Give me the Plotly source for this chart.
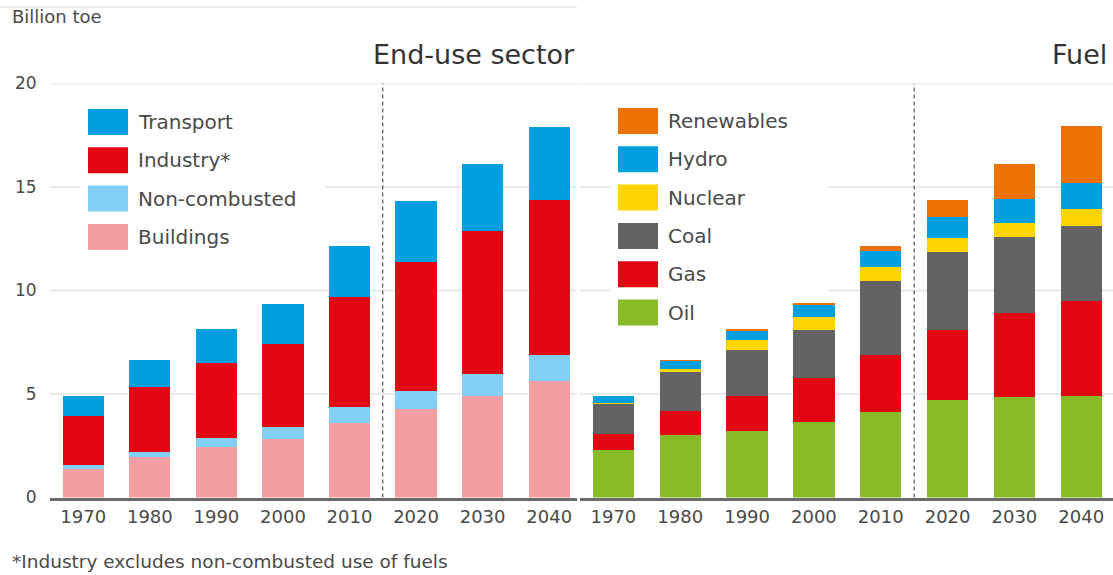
import plotly.graph_objects as go

years = ["1970", "1980", "1990", "2000", "2010", "2020", "2030", "2040"]

# Energy demand by end-use sector, billion toe (stacked bottom to top)
buildings = [1.38, 1.94, 2.43, 2.81, 3.59, 4.27, 4.90, 5.64]
non_combusted = [0.19, 0.28, 0.45, 0.59, 0.76, 0.88, 1.09, 1.24]
industry = [2.39, 3.14, 3.64, 4.01, 5.32, 6.21, 6.90, 7.51]
transport = [0.92, 1.28, 1.60, 1.94, 2.50, 2.98, 3.23, 3.49]

# Energy demand by fuel, billion toe (stacked bottom to top)
oil = [2.29, 3.03, 3.22, 3.67, 4.12, 4.69, 4.86, 4.89]
gas = [0.80, 1.17, 1.68, 2.09, 2.76, 3.41, 4.05, 4.61]
coal = [1.46, 1.86, 2.24, 2.34, 3.57, 3.76, 3.66, 3.63]
nuclear = [0.01, 0.16, 0.46, 0.61, 0.67, 0.66, 0.69, 0.81]
hydro = [0.32, 0.42, 0.50, 0.64, 0.77, 1.01, 1.16, 1.24]
renewables = [0.00, 0.01, 0.02, 0.03, 0.24, 0.82, 1.71, 2.75]

y_ticks = [0, 5, 10, 15, 20]

W, H = 1113, 575
FONT = "DejaVu Sans"
TEXT = "#4a4a4a"
GRID = "#e3e3e3"
AXIS = "#6b6b6b"


def px(x):
    return x / W


def py(y):
    return 1 - y / H


sector_series = [
    ("Buildings", buildings, "#F29EA2"),
    ("Non-combusted", non_combusted, "#83CFF5"),
    ("Industry*", industry, "#E20613"),
    ("Transport", transport, "#009FE0"),
]
fuel_series = [
    ("Oil", oil, "#89BA27"),
    ("Gas", gas, "#E20613"),
    ("Coal", coal, "#636363"),
    ("Nuclear", nuclear, "#FFD500"),
    ("Hydro", hydro, "#009FE0"),
    ("Renewables", renewables, "#EE7203"),
]

fig = go.Figure()
for name, vals, col in sector_series:
    fig.add_trace(go.Bar(x=years, y=vals, name=name, width=0.62,
                         marker=dict(color=col, line=dict(width=0)),
                         xaxis="x", yaxis="y"))
for name, vals, col in fuel_series:
    fig.add_trace(go.Bar(x=years, y=vals, name=name, width=0.62,
                         marker=dict(color=col, line=dict(width=0)),
                         xaxis="x2", yaxis="y2"))

y_dom = [(H - 497.5) / H, (H - 83.5) / H]
tickfont = dict(family=FONT, size=18, color=TEXT)

xcommon = dict(type="category", showgrid=False, showline=True, linecolor=AXIS,
               linewidth=2.5, ticks="outside", ticklen=1,
               tickcolor="rgba(0,0,0,0)", tickfont=tickfont, fixedrange=True,
               automargin=False)
ycommon = dict(range=[0, 20], tickvals=y_ticks, showgrid=False,
               zeroline=False, showline=False, domain=y_dom,
               ticks="outside", ticklen=9, tickcolor="rgba(0,0,0,0)",
               tickfont=dict(family=FONT, size=17, color=TEXT), fixedrange=True,
               automargin=False)

fig.update_layout(
    width=W, height=H,
    margin=dict(l=0, r=0, t=0, b=0),
    paper_bgcolor="white", plot_bgcolor="rgba(0,0,0,0)",
    barmode="stack", showlegend=False,
    xaxis=dict(domain=[px(50), px(577)], range=[-0.5, 7.418], anchor="y", **xcommon),
    yaxis=dict(anchor="x", **ycommon),
    xaxis2=dict(domain=[px(580), 1.0], range=[-0.5, 7.475], anchor="y2", **xcommon),
    yaxis2=dict(anchor="x2", showticklabels=False, **ycommon),
)

shapes = []
# horizontal gridlines at the y ticks, under the bars
for xr, yr in (("x domain", "y"), ("x2 domain", "y2")):
    for t in y_ticks[1:]:
        shapes.append(dict(type="line", xref=xr, yref=yr, x0=0, x1=1, y0=t, y1=t,
                           line=dict(color=GRID, width=1.5), layer="below"))

# white panels behind the legends so the gridlines stop there
shapes.append(dict(type="rect", xref="x domain", yref="y domain",
                   x0=0.057, x1=0.522, y0=0.581, y1=0.96,
                   fillcolor="white", line=dict(width=0), layer="below"))
shapes.append(dict(type="rect", xref="x2 domain", yref="y2 domain",
                   x0=0.056, x1=0.465, y0=0.392, y1=0.96,
                   fillcolor="white", line=dict(width=0), layer="below"))

# history / projection divider
for xr, yr in (("x", "y"), ("x2", "y2")):
    shapes.append(dict(type="line", xref=xr, yref=yr, x0=4.5, x1=4.5, y0=0, y1=20,
                       line=dict(color="#333333", width=1, dash="4px,3px"), layer="above"))

# thin rule at the top of the left panel
shapes.append(dict(type="line", xref="paper", yref="paper", x0=0, x1=px(577),
                   y0=py(7), y1=py(7), line=dict(color="#e6e6e6", width=1.5)))

annotations = []


def add_legend(series, x_sw, y_top, step=38.3):
    for i, (name, _vals, col) in enumerate(series):
        y0 = y_top + i * step
        shapes.append(dict(type="rect", xref="paper", yref="paper",
                           x0=px(x_sw), x1=px(x_sw + 40), y0=py(y0 + 26), y1=py(y0),
                           fillcolor=col, line=dict(width=0), layer="above"))
        annotations.append(dict(xref="paper", yref="paper", x=px(x_sw + 48), y=py(y0 + 13),
                                xanchor="left", yanchor="middle", showarrow=False,
                                text=name, font=dict(family=FONT, size=20, color=TEXT)))


add_legend(list(reversed(sector_series)), 88, 109)
add_legend(list(reversed(fuel_series)), 618, 108)

annotations += [
    dict(xref="paper", yref="paper", x=px(10), y=py(16), xanchor="left", yanchor="middle",
         showarrow=False, text="Billion toe", font=dict(family=FONT, size=18, color=TEXT)),
    dict(xref="paper", yref="paper", x=px(577), y=py(54), xanchor="right", yanchor="middle",
         showarrow=False, text="End-use sector", font=dict(family=FONT, size=27, color="#333333")),
    dict(xref="paper", yref="paper", x=px(1109), y=py(54), xanchor="right", yanchor="middle",
         showarrow=False, text="Fuel", font=dict(family=FONT, size=27, color="#333333")),
    dict(xref="paper", yref="paper", x=px(10), y=py(561), xanchor="left", yanchor="middle",
         showarrow=False, text="*Industry excludes non-combusted use of fuels",
         font=dict(family=FONT, size=18.5, color=TEXT)),
]

fig.update_layout(shapes=shapes, annotations=annotations)
fig.write_html("out.html")
